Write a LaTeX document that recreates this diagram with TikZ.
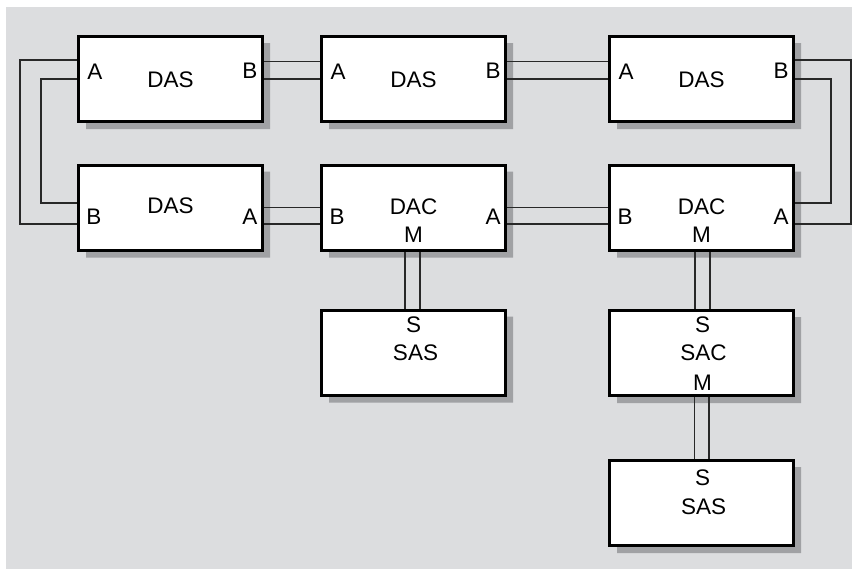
\documentclass[tikz,border=0pt]{standalone}
\usepackage{fontspec}
\setmainfont{Liberation Sans}
\usetikzlibrary{calc}
\definecolor{bgc}{RGB}{220,221,223}
\definecolor{shadowc}{RGB}{160,161,164}
\definecolor{wirec}{RGB}{40,40,40}
\pgfdeclarelayer{back}
\pgfdeclarelayer{shade}
\pgfsetlayers{back,shade,main}
\begin{document}
\begin{tikzpicture}[x=1pt,y=-1pt,
  box/.style={draw=black, line width=3pt, fill=white, minimum width=184pt, minimum height=85pt, inner sep=0pt},
  lbl/.style={font=\fontsize{22.5}{26}\selectfont, inner sep=0pt},
  wire/.style={draw=wirec, line width=1.35pt}]
\useasboundingbox (0,0) rectangle (853,571);
\begin{pgfonlayer}{back}
  \fill[bgc] (6,7) rectangle (852,569);
\end{pgfonlayer}
% boxes
\node[box] (d1) at (170.5,79) {};
\node[box] (d2) at (413.5,79) {};
\node[box] (d3) at (701.5,79) {};
\node[box] (d4) at (170.5,207.5) {};
\node[box] (d5) at (413.5,207.5) {};
\node[box] (d6) at (701.5,207.5) {};
\node[box] (s1) at (413.5,352.5) {};
\node[box] (sc) at (701.5,353) {};
\node[box] (s2) at (701.5,503) {};
% shadows
\begin{pgfonlayer}{shade}
  \foreach \b in {d1,d2,d3,d4,d5,d6,s1,sc,s2}
    \fill[shadowc] ($(\b.north east)+(0,8)$) rectangle ($(\b.south west)+(9,6)$)
                   ($(\b.north east)+(6,8)$) rectangle ($(\b.south east)+(0,6)$);
\end{pgfonlayer}
% labels
\node[lbl] (d1a) at ($(d1.center)+(-75.5,-7.5)$) {A};
\node[lbl] (d1b) at ($(d1.center)+(79.5,-8)$) {B};
\node[lbl] (d1t) at ($(d1.center)+(0,1)$) {DAS};
\node[lbl] (d2a) at ($(d2.center)+(-75.5,-7.5)$) {A};
\node[lbl] (d2b) at ($(d2.center)+(79.5,-8)$) {B};
\node[lbl] (d2t) at ($(d2.center)+(0,1)$) {DAS};
\node[lbl] (d3a) at ($(d3.center)+(-75.5,-7.5)$) {A};
\node[lbl] (d3b) at ($(d3.center)+(79.5,-8)$) {B};
\node[lbl] (d3t) at ($(d3.center)+(0,1)$) {DAS};
\node[lbl] (d4b) at ($(d4.center)+(-76.5,9)$) {B};
\node[lbl] (d4a) at ($(d4.center)+(79.5,9)$) {A};
\node[lbl] (d4t) at ($(d4.center)+(0,-2)$) {DAS};
\node[lbl] (d5b) at ($(d5.center)+(-76.5,9)$) {B};
\node[lbl] (d5a) at ($(d5.center)+(79.5,9)$) {A};
\node[lbl] (d5t) at ($(d5.center)+(0,-1)$) {DAC};
\node[lbl] (d5m) at ($(d5.center)+(0,27.5)$) {M};
\node[lbl] (d6b) at ($(d6.center)+(-76.5,9)$) {B};
\node[lbl] (d6a) at ($(d6.center)+(79.5,9)$) {A};
\node[lbl] (d6t) at ($(d6.center)+(0,-1)$) {DAC};
\node[lbl] (d6m) at ($(d6.center)+(0,27.5)$) {M};
\node[lbl] (s1s) at ($(s1.center)+(0,-27.5)$) {S};
\node[lbl] (s1t) at ($(s1.center)+(2,0)$) {SAS};
\node[lbl] (scs) at ($(sc.center)+(1,-28)$) {S};
\node[lbl] (sct) at ($(sc.center)+(2,0)$) {SAC};
\node[lbl] (scm) at ($(sc.center)+(1,30)$) {M};
\node[lbl] (s2s) at ($(s2.center)+(1,-25)$) {S};
\node[lbl] (s2t) at ($(s2.center)+(2,3.7)$) {SAS};
% ring connectors
\draw[wire] ($(d1.east)+(0,-17.5)$) -- ($(d2.west)+(0,-17.5)$);
\draw[wire] (d1.east) -- (d2.west);
\draw[wire] ($(d2.east)+(0,-17.5)$) -- ($(d3.west)+(0,-17.5)$);
\draw[wire] (d2.east) -- (d3.west);
\draw[wire] ($(d4.east)+(0,0)$) -- ($(d5.west)+(0,0)$);
\draw[wire] ($(d4.east)+(0,16.5)$) -- ($(d5.west)+(0,16.5)$);
\draw[wire] ($(d5.east)+(0,0)$) -- ($(d6.west)+(0,0)$);
\draw[wire] ($(d5.east)+(0,16.5)$) -- ($(d6.west)+(0,16.5)$);
% loops
\draw[wire] ($(d1.west)+(0,-19)$) -- ++(-57,0) |- ($(d4.west)+(0,16.5)$);
\draw[wire] (d1.west) -- ++(-36,0) |- ($(d4.west)+(0,-4.5)$);
\draw[wire] ($(d3.east)+(0,-19)$) -- ++(56,0) |- ($(d6.east)+(0,16.5)$);
\draw[wire] (d3.east) -- ++(36,0) |- ($(d6.east)+(0,-4.5)$);
% tree connectors
\draw[wire] ($(d5.south)+(-8.5,0)$) -- ($(s1.north)+(-8.5,0)$);
\draw[wire] ($(d5.south)+(6.5,0)$) -- ($(s1.north)+(6.5,0)$);
\draw[wire] ($(d6.south)+(-6.5,0)$) -- ($(sc.north)+(-6.5,0)$);
\draw[wire] ($(d6.south)+(8.5,0)$) -- ($(sc.north)+(8.5,0)$);
\draw[wire] ($(sc.south)+(-7,0)$) -- ($(s2.north)+(-7,0)$);
\draw[wire] ($(sc.south)+(7.5,0)$) -- ($(s2.north)+(7.5,0)$);
\end{tikzpicture}
\end{document}
